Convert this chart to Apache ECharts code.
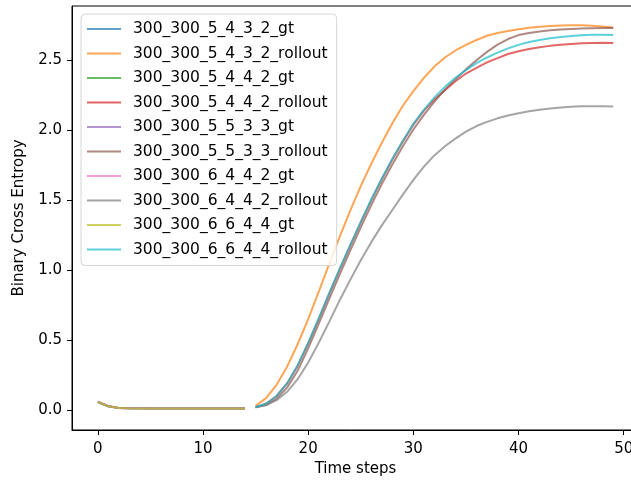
<!DOCTYPE html>
<html>
<head>
<meta charset="utf-8">
<script src="https://cdn.jsdelivr.net/npm/echarts@6/dist/echarts.min.js"></script>
<style>
  html, body { margin: 0; padding: 0; background: #fff; }
  #chart { width: 631px; height: 480px; }
</style>
</head>
<body>
<div id="chart"></div>
<script>
// Time steps of the ground-truth segment and of the rollout segment
const gtSteps = [0, 1, 2, 3, 4, 5, 6, 7, 8, 9, 10, 11, 12, 13, 14];
const rolloutSteps = [15, 16, 17, 18, 19, 20, 21, 22, 23, 24, 25, 26, 27, 28, 29, 30, 31, 32,
  33, 34, 35, 36, 37, 38, 39, 40, 41, 42, 43, 44, 45, 46, 47, 48, 49];

// Binary cross entropy per configuration
const gt_5_4_3_2 = [0.058, 0.027, 0.015, 0.012, 0.012, 0.011, 0.011, 0.011, 0.011, 0.011, 0.011, 0.011, 0.011, 0.011, 0.011];
const rollout_5_4_3_2 = [0.03, 0.085, 0.18, 0.31, 0.47, 0.65, 0.845, 1.045, 1.24, 1.425, 1.60, 1.76, 1.91, 2.05, 2.175,
  2.28, 2.375, 2.455, 2.52, 2.57, 2.61, 2.645, 2.675, 2.695, 2.71, 2.722, 2.732, 2.74, 2.745, 2.748,
  2.75, 2.75, 2.747, 2.742, 2.735];
const gt_5_4_4_2 = [0.057, 0.026, 0.014, 0.012, 0.011, 0.011, 0.011, 0.011, 0.011, 0.011, 0.011, 0.011, 0.011, 0.011, 0.011];
const rollout_5_4_4_2 = [0.02, 0.045, 0.10, 0.19, 0.315, 0.475, 0.65, 0.83, 1.005, 1.175, 1.34, 1.50, 1.65, 1.79, 1.92,
  2.04, 2.14, 2.22, 2.285, 2.35, 2.405, 2.445, 2.485, 2.515, 2.545, 2.565, 2.58, 2.593, 2.603, 2.611,
  2.617, 2.621, 2.624, 2.625, 2.624];
const gt_5_5_3_3 = [0.059, 0.027, 0.015, 0.013, 0.012, 0.012, 0.012, 0.012, 0.012, 0.012, 0.012, 0.012, 0.012, 0.012, 0.012];
const rollout_5_5_3_3 = [0.02, 0.035, 0.08, 0.16, 0.28, 0.44, 0.615, 0.795, 0.97, 1.14, 1.305, 1.465, 1.615, 1.755, 1.885,
  2.005, 2.11, 2.205, 2.29, 2.365, 2.435, 2.50, 2.56, 2.612, 2.652, 2.68, 2.695, 2.706, 2.714, 2.72,
  2.724, 2.727, 2.729, 2.73, 2.73];
const gt_6_4_4_2 = [0.060, 0.028, 0.015, 0.012, 0.012, 0.011, 0.011, 0.011, 0.011, 0.011, 0.011, 0.011, 0.011, 0.011, 0.011];
const rollout_6_4_4_2 = [0.02, 0.035, 0.07, 0.13, 0.22, 0.34, 0.48, 0.63, 0.785, 0.93, 1.07, 1.20, 1.32, 1.43, 1.54,
  1.645, 1.74, 1.82, 1.885, 1.94, 1.99, 2.03, 2.06, 2.085, 2.105, 2.122, 2.136, 2.147, 2.156, 2.163,
  2.168, 2.171, 2.172, 2.171, 2.17];
const gt_6_6_4_4 = [0.058, 0.026, 0.014, 0.012, 0.011, 0.011, 0.011, 0.011, 0.011, 0.011, 0.011, 0.011, 0.011, 0.011, 0.011];
const rollout_6_6_4_4 = [0.02, 0.045, 0.10, 0.19, 0.32, 0.48, 0.655, 0.835, 1.01, 1.18, 1.345, 1.505, 1.655, 1.795, 1.925,
  2.045, 2.145, 2.235, 2.31, 2.375, 2.43, 2.48, 2.52, 2.555, 2.585, 2.61, 2.63, 2.645, 2.657, 2.667,
  2.674, 2.679, 2.682, 2.682, 2.68];

const xTicks = [0, 10, 20, 30, 40, 50];
const yTicks = [0, 0.5, 1, 1.5, 2, 2.5];

const palette = ['#1f77b4', '#ff7f0e', '#2ca02c', '#d62728', '#9467bd',
  '#8c564b', '#e377c2', '#7f7f7f', '#bcbd22', '#17becf'];

const seriesDefs = [
  ['300_300_5_4_3_2_gt', gtSteps, gt_5_4_3_2],
  ['300_300_5_4_3_2_rollout', rolloutSteps, rollout_5_4_3_2],
  ['300_300_5_4_4_2_gt', gtSteps, gt_5_4_4_2],
  ['300_300_5_4_4_2_rollout', rolloutSteps, rollout_5_4_4_2],
  ['300_300_5_5_3_3_gt', gtSteps, gt_5_5_3_3],
  ['300_300_5_5_3_3_rollout', rolloutSteps, rollout_5_5_3_3],
  ['300_300_6_4_4_2_gt', gtSteps, gt_6_4_4_2],
  ['300_300_6_4_4_2_rollout', rolloutSteps, rollout_6_4_4_2],
  ['300_300_6_6_4_4_gt', gtSteps, gt_6_6_4_4],
  ['300_300_6_6_4_4_rollout', rolloutSteps, rollout_6_6_4_4]
];

const FONT = 'DejaVu Sans';

const series = seriesDefs.map(([name, xs, ys], i) => ({
  name: name,
  type: 'line',
  data: xs.map((x, k) => [x, ys[k]]),
  symbol: 'none',
  smooth: false,
  color: palette[i],
  lineStyle: { width: 2, color: palette[i], opacity: 0.7 },
  itemStyle: { color: palette[i] },
  emphasis: { disabled: true },
  animation: false
}));

const chart = echarts.init(document.getElementById('chart'), null, { renderer: 'canvas' });
chart.setOption({
  animation: false,
  backgroundColor: '#fff',
  grid: {
    left: 72, top: 6, bottom: 50, right: -8,
    containLabel: false,
    outerBoundsMode: 'none',
    show: true, borderColor: '#000', borderWidth: 1, backgroundColor: 'transparent'
  },
  legend: {
    orient: 'vertical',
    left: 81, top: 14,
    padding: [7, 9, 8, 5],
    itemGap: 8.5,
    itemWidth: 34,
    itemHeight: 14,
    backgroundColor: 'rgba(255,255,255,0.8)',
    borderColor: '#d6d6d6',
    borderWidth: 1,
    borderRadius: 4,
    selectedMode: false,
    itemStyle: { opacity: 0, borderWidth: 0 },
    lineStyle: { width: 2, opacity: 0.7 },
    textStyle: { fontFamily: FONT, fontSize: 15.5, color: '#000', padding: [0, 0, 0, 7] },
    data: seriesDefs.map(d => d[0])
  },
  xAxis: {
    type: 'value',
    min: -2.45, max: 51.45,
    name: 'Time steps',
    nameLocation: 'middle',
    nameGap: 28,
    nameTextStyle: { fontFamily: FONT, fontSize: 15, color: '#000' },
    axisLine: { show: true, onZero: false, lineStyle: { color: '#000', width: 1 } },
    axisTick: { show: true, inside: false, length: 5, customValues: xTicks, lineStyle: { color: '#000' } },
    axisLabel: { customValues: xTicks, margin: 12, fontFamily: FONT, fontSize: 15, color: '#000' },
    splitLine: { show: false }
  },
  yAxis: {
    type: 'value',
    min: -0.143, max: 2.888,
    name: 'Binary Cross Entropy',
    nameLocation: 'middle',
    nameGap: 45,
    nameTextStyle: { fontFamily: FONT, fontSize: 15, color: '#000' },
    axisLine: { show: true, onZero: false, lineStyle: { color: '#000', width: 1 } },
    axisTick: { show: true, inside: false, length: 5, customValues: yTicks, lineStyle: { color: '#000' } },
    axisLabel: {
      customValues: yTicks, margin: 10, fontFamily: FONT, fontSize: 15, color: '#000',
      formatter: v => v.toFixed(1)
    },
    splitLine: { show: false }
  },
  series: series
});
</script>
</body>
</html>
